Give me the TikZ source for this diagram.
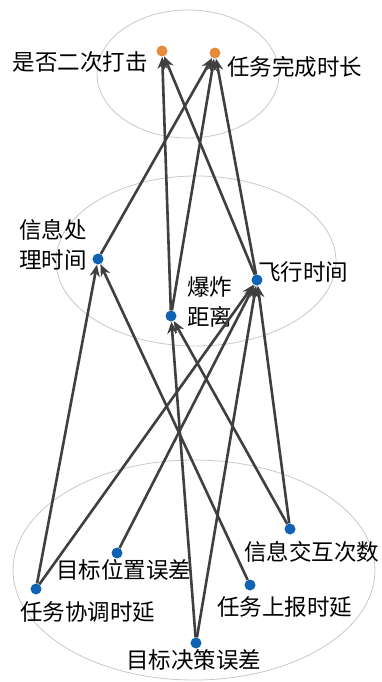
\documentclass[tikz,border=0pt]{standalone}
\usepackage{fontspec}
\newfontfamily\cjk{Noto Sans CJK SC}
\usetikzlibrary{arrows.meta}
\definecolor{dotblue}{HTML}{0F62B4}
\definecolor{dotorange}{HTML}{E88A3C}
\definecolor{edgegray}{HTML}{3F3F3F}
\definecolor{ringgray}{HTML}{C8C8C8}
\tikzset{
  bdot/.style={circle,inner sep=0pt,minimum size=11pt,fill=dotblue},
  odot/.style={circle,inner sep=0pt,minimum size=11pt,fill=dotorange},
  lbl/.style={inner sep=0pt,font=\cjk\fontsize{22.5}{30}\selectfont,text=black},
  link/.style={draw=edgegray,line width=2.6pt,-{Stealth[length=12pt,width=10pt]}},
  ring/.style={draw=ringgray,line width=0.8pt}
}
\begin{document}
\begin{tikzpicture}[x=1pt,y=-1pt]
\useasboundingbox (0,0) rectangle (381,682);
% rings
\draw[ring] (188,74) ellipse [x radius=91, y radius=64];
\draw[ring] (196,261) ellipse [x radius=140, y radius=85];
\draw[ring] (194,570) ellipse [x radius=181, y radius=110];
% dots
\node[odot] (a) at (162,51) {};
\node[odot] (b) at (215,53) {};
\node[bdot] (c) at (98,259) {};
\node[bdot] (d) at (171,316) {};
\node[bdot] (e) at (257,280) {};
\node[bdot] (f) at (290,529) {};
\node[bdot] (g) at (117,553) {};
\node[bdot] (h) at (36,589) {};
\node[bdot] (i) at (250,585) {};
\node[bdot] (j) at (196,643) {};
% labels
\node[lbl,anchor=east] (la) at (148,62) {是否二次打击};
\node[lbl,anchor=west] (lb) at (227,67) {任务完成时长};
\node[lbl,align=left,anchor=west] (lc) at (19,245) {信息处\\理时间};
\node[lbl,align=left,anchor=west] (ld) at (187,302) {爆炸\\距离};
\node[lbl,anchor=west] (le) at (258,272) {飞行时间};
\node[lbl,anchor=west] (lf) at (244,552) {信息交互次数};
\node[lbl,anchor=west] (lg) at (56,570) {目标位置误差};
\node[lbl,anchor=west] (lh) at (20,612) {任务协调时延};
\node[lbl,anchor=west] (li) at (217,607) {任务上报时延};
\node[lbl,anchor=west] (lj) at (126,660) {目标决策误差};
% links middle -> top
\draw[link] (d) -- (a);
\draw[link] (e) -- (a);
\draw[link] (c) -- (b);
\draw[link] (d) -- (b);
\draw[link] (e) -- (b);
% links bottom -> middle
\draw[link] (h) -- (c);
\draw[link] (i) -- (c);
\draw[link] (j) -- (d);
\draw[link] (f) -- (d);
\draw[link] (h) -- (e);
\draw[link] (g) -- (e);
\draw[link] (j) -- (e);
\draw[link] (f) -- (e);
\end{tikzpicture}
\end{document}
